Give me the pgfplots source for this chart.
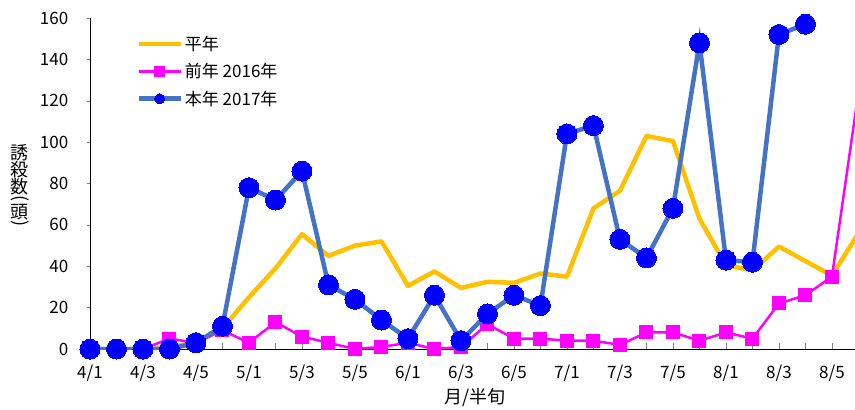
\documentclass[border=0pt]{standalone}
\usepackage{pgfplots}
\pgfplotsset{compat=1.18}
\usepackage{pgfplotstable}
\usepackage{fontspec}
\setmainfont{Noto Sans CJK JP}
\definecolor{cavg}{HTML}{FFC000}
\definecolor{cprev}{HTML}{FF00FF}
\definecolor{cline}{HTML}{4472C4}
\definecolor{cdot}{HTML}{0000FF}
\pgfplotstableread{
x avg prev
0 0 0
1 0 0
2 0 0
3 1 5
4 3 3
5 10 9
6 25 3
7 39 13
8 55.5 6
9 45 3
10 50 0
11 52 1
12 30.5 3
13 37.5 0
14 29.5 1
15 32.5 12
16 32 5
17 36.5 5
18 35 4
19 68 4
20 76.5 2
21 103 8
22 100.5 8
23 63 4
24 40.5 8
25 38 5
26 49.5 22
27 42.5 26
28 35.5 35
29 56 124
}\tabprev
\pgfplotstableread{
x curr
0 0
1 0
2 0
3 0
4 3
5 11
6 78
7 72
8 86
9 31
10 24
11 14
12 5
13 26
14 4
15 17
16 26
17 21
18 104
19 108
20 53
21 44
22 68
23 148
24 43
25 42
26 152
27 157
}\tabcurr
\begin{document}
\begin{tikzpicture}
\useasboundingbox (-90pt,-61pt) rectangle (765pt,349pt);
\begin{axis}[
  at={(0pt,0pt)}, anchor=south west,
  scale only axis, width=765pt, height=331pt,
  xmin=0, xmax=28.87, ymin=0, ymax=160,
  axis x line*=bottom, axis y line*=left,
  axis line style={-, black, line width=0.8pt},
  font=\fontsize{17}{20}\selectfont,
  /pgf/number format/assume math mode=true,
  ytick={0,20,...,160},
  xtick={0,2,...,28},
  xticklabels={4/1,4/3,4/5,5/1,5/3,5/5,6/1,6/3,6/5,7/1,7/3,7/5,8/1,8/3,8/5},
  minor xtick={1,3,...,29},
  xtick style={gray, line width=0.5pt},
  ytick style={gray, line width=0.5pt},
  x tick style={/pgfplots/major tick length=6pt, /pgfplots/minor tick length=6pt},
  xtick align=inside,
  ytick align=outside,
  y tick style={/pgfplots/major tick length=3pt},
  yticklabel style={xshift=-14pt},
  xticklabel style={yshift=-12pt},
  xlabel={月/半旬},
  xlabel style={at={(axis description cs:0.503,0)}, anchor=center, yshift=-49pt, font=\fontsize{18}{20}\selectfont},
  ylabel={誘\\殺\\数\\\rotatebox[origin=c]{-90}{(}\\頭\\\rotatebox[origin=c]{-90}{)}},
  ylabel style={at={(axis description cs:-0.0915,0.49)}, rotate=-90, anchor=center, align=center, font={\fontsize{18}{0}\selectfont\lineskip=0.5pt\lineskiplimit=0pt}},
  clip mode=individual,
  legend style={draw=none, fill=none, at={(axis description cs:0.0565,0.958)}, anchor=north west, row sep=7.5pt, font=\fontsize{17}{20}\selectfont},
  legend cell align=left,
  legend image code/.code={\draw[mark repeat=2, mark phase=2, #1, mark size=5pt] plot coordinates {(0pt,0pt) (21pt,0pt) (42pt,0pt)};},
]
\addplot[cavg, line width=4.5pt, no markers, line join=round] table[x=x, y=avg] {\tabprev};
\addlegendentry{平年}
\addplot[cprev, line width=2.5pt, mark=square*, mark size=6.5pt, mark options={fill=cprev, draw=cprev, line width=0pt}] table[x=x, y=prev] {\tabprev};
\addlegendentry{前年 2016年}
\addplot[cline, line width=4.5pt, mark=*, mark size=10pt, mark options={fill=cdot, draw=cdot, line width=0pt}] table[x=x, y=curr] {\tabcurr};
\addlegendentry{本年 2017年}
\end{axis}
\end{tikzpicture}
\end{document}
